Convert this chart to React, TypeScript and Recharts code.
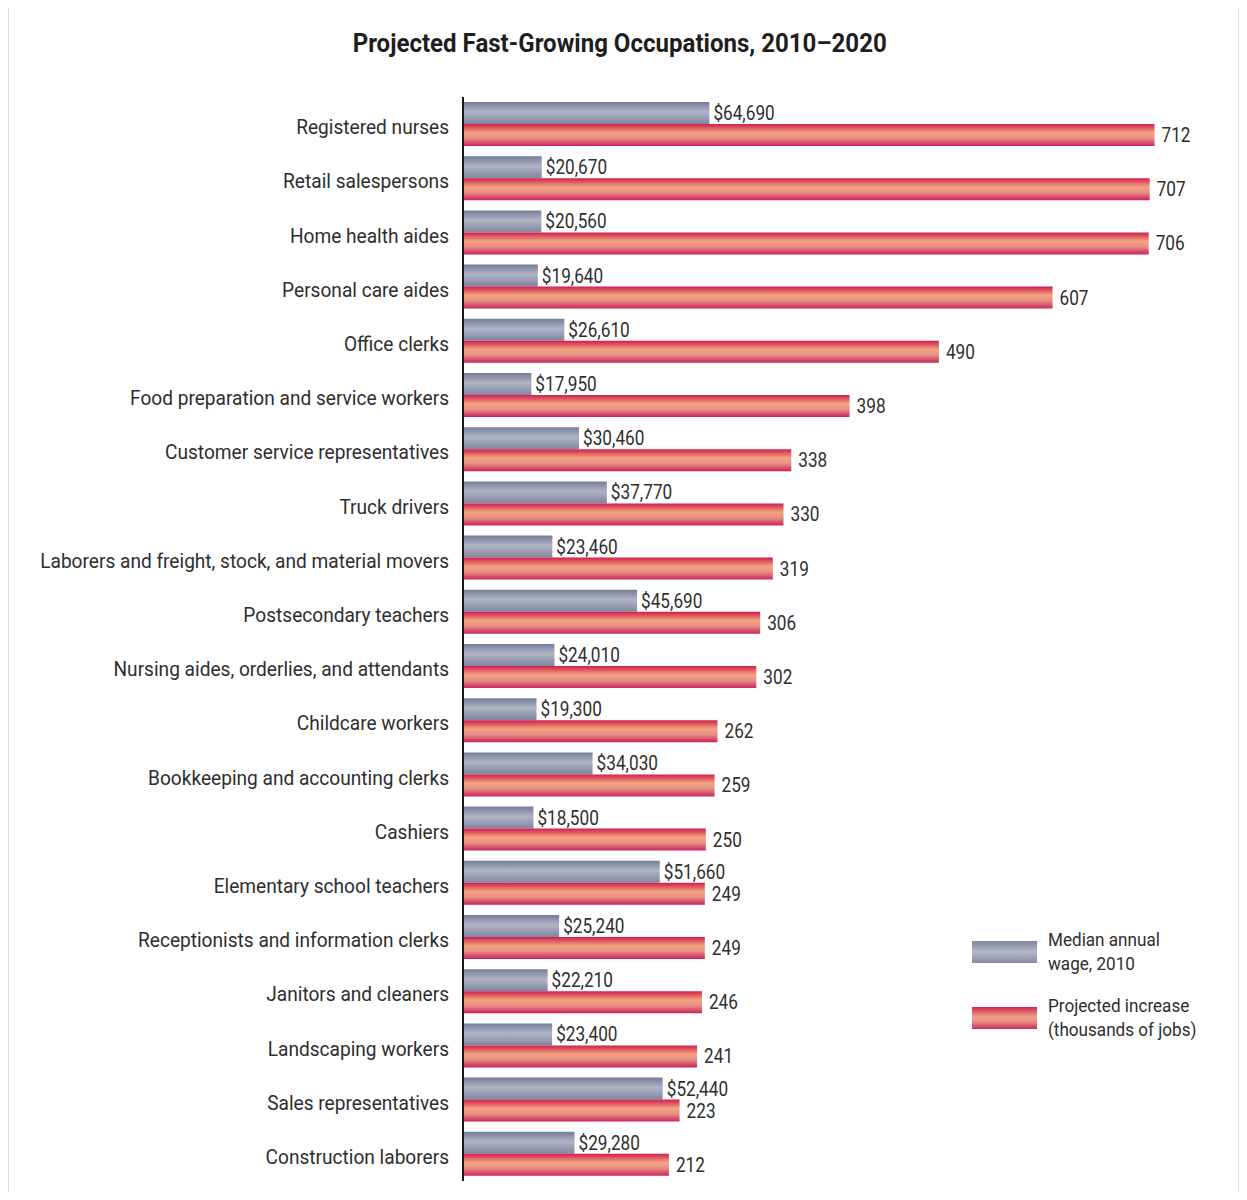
import React from 'react';
import { BarChart, Bar, XAxis, YAxis, LabelList } from 'recharts';

const occupations = [
  'Registered nurses',
  'Retail salespersons',
  'Home health aides',
  'Personal care aides',
  'Office clerks',
  'Food preparation and service workers',
  'Customer service representatives',
  'Truck drivers',
  'Laborers and freight, stock, and material movers',
  'Postsecondary teachers',
  'Nursing aides, orderlies, and attendants',
  'Childcare workers',
  'Bookkeeping and accounting clerks',
  'Cashiers',
  'Elementary school teachers',
  'Receptionists and information clerks',
  'Janitors and cleaners',
  'Landscaping workers',
  'Sales representatives',
  'Construction laborers',
];

const medianWage = [
  64690, 20670, 20560, 19640, 26610, 17950, 30460, 37770, 23460, 45690,
  24010, 19300, 34030, 18500, 51660, 25240, 22210, 23400, 52440, 29280,
];

const projectedIncrease = [
  712, 707, 706, 607, 490, 398, 338, 330, 319, 306,
  302, 262, 259, 250, 249, 249, 246, 241, 223, 212,
];

const data = occupations.map((name, i) => ({
  name,
  wage: medianWage[i],
  increase: projectedIncrease[i],
}));

const FONT = 'Roboto, sans-serif';
const TEXT = '#2e2e2e';

const fmtWage = (v: number) => '$' + v.toLocaleString('en-US');

// the original uses a condensed face; Roboto squeezed horizontally stands in for it
const CategoryTick = (props: any) => {
  const { x, y, payload } = props;
  return (
    <text
      transform={`translate(${x},${y}) scale(0.91,1)`}
      x={0}
      y={0}
      dy={10}
      textAnchor="end"
      fontFamily={FONT}
      fontSize={21}
      fill={TEXT}
    >
      {payload.value}
    </text>
  );
};

const makeValueLabel = (gap: number, fmt: (v: number) => string) => (props: any) => {
  const { x, y, width, height, value } = props;
  const lx = Number(x) + Number(width) + gap;
  const ly = Number(y) + Number(height) / 2;
  return (
    <text
      transform={`translate(${lx},${ly}) scale(0.86,1)`}
      x={0}
      y={0}
      dy={7}
      textAnchor="start"
      fontFamily={FONT}
      fontSize={20}
      fill={TEXT}
    >
      {fmt(Number(value))}
    </text>
  );
};

const wageLabel = makeValueLabel(4, fmtWage);
const incLabel = makeValueLabel(7, (v) => String(v));

const legendText: React.CSSProperties = { transform: 'scaleX(0.95)', transformOrigin: 'left center', whiteSpace: 'nowrap' };

const LegendBox = () => (
  <div style={{ position: 'absolute', left: 972, top: 928, fontFamily: FONT, fontSize: 18, color: TEXT, lineHeight: '24px' }}>
    <div style={{ display: 'flex', alignItems: 'center', marginBottom: 18 }}>
      <div style={{ width: 65, height: 22, background: 'linear-gradient(#7d86a2, #b3b7c6 50%, #858aa2)', marginRight: 11, flexShrink: 0 }} />
      <div style={legendText}>Median annual<br />wage, 2010</div>
    </div>
    <div style={{ display: 'flex', alignItems: 'center' }}>
      <div style={{ width: 65, height: 22, background: 'linear-gradient(#cf2452, #f0a283 45%, #ea8f86 65%, #cc2c5c)', marginRight: 11, flexShrink: 0 }} />
      <div style={legendText}>Projected increase<br />(thousands of jobs)</div>
    </div>
  </div>
);

export default function App() {
  return (
    <div style={{ position: 'relative', margin: -8, width: 1247, height: 1200, background: '#dcdcdc', overflow: 'hidden' }}>
      <div style={{ position: 'absolute', left: 9, top: 8, width: 1229, height: 1192, background: '#ffffff' }} />
      <div style={{ position: 'absolute', left: 0, top: 28, width: 1240, display: 'flex', justifyContent: 'center' }}>
        <div style={{ fontFamily: FONT, fontWeight: 'bold', fontSize: 26, color: '#1e1e1e', transform: 'scaleX(0.925)', whiteSpace: 'nowrap' }}>
          Projected Fast-Growing Occupations, 2010–2020
        </div>
      </div>
      <div style={{ position: 'absolute', left: 0, top: 0 }}>
        <BarChart
          width={1247}
          height={1200}
          data={data}
          layout="vertical"
          margin={{ top: 97, right: 7, bottom: 19, left: 8 }}
          barSize={22}
          barGap={0}
        >
          <defs>
            <linearGradient id="wageGrad" x1="0" y1="0" x2="0" y2="1">
              <stop offset="0%" stopColor="#747d9a" />
              <stop offset="45%" stopColor="#b0b4c4" />
              <stop offset="100%" stopColor="#7f85a0" />
            </linearGradient>
            <linearGradient id="incGrad" x1="0" y1="0" x2="0" y2="1">
              <stop offset="0%" stopColor="#d01e4c" />
              <stop offset="40%" stopColor="#f2a47f" />
              <stop offset="65%" stopColor="#ea8f86" />
              <stop offset="100%" stopColor="#c8245a" />
            </linearGradient>
          </defs>
          <XAxis xAxisId="wage" type="number" dataKey="wage" domain={[0, 204000]} hide />
          <XAxis xAxisId="inc" type="number" dataKey="increase" domain={[0, 800]} hide />
          <YAxis
            type="category"
            dataKey="name"
            width={455}
            axisLine={{ stroke: '#1a1a1a', strokeWidth: 2 }}
            tickLine={false}
            tickMargin={8}
            tick={<CategoryTick />}
            interval={0}
          />
          <Bar xAxisId="wage" dataKey="wage" fill="url(#wageGrad)" isAnimationActive={false}>
            <LabelList dataKey="wage" content={wageLabel} />
          </Bar>
          <Bar xAxisId="inc" dataKey="increase" fill="url(#incGrad)" isAnimationActive={false}>
            <LabelList dataKey="increase" content={incLabel} />
          </Bar>
        </BarChart>
      </div>
      <LegendBox />
    </div>
  );
}
